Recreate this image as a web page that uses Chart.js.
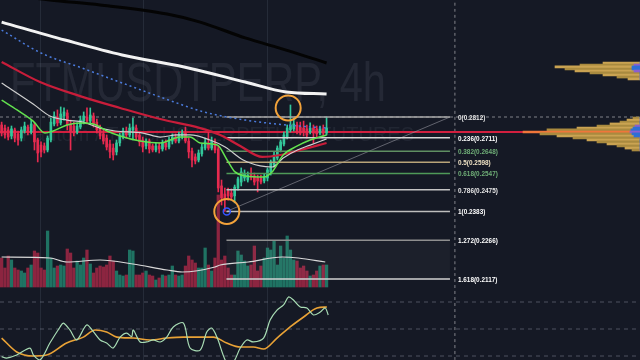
<!DOCTYPE html>
<html><head><meta charset="utf-8">
<script src="https://cdn.jsdelivr.net/npm/chart.js@4.4.0/dist/chart.umd.min.js"></script>
<style>html,body{margin:0;padding:0;background:#151925;overflow:hidden}#wrap{width:640px;height:360px}</style>
</head><body><div id="wrap"><canvas id="c" width="640" height="360"></canvas></div>
<script>
// ---- candle data (FTMUSDTPERP, 4h) ----
const opens = [.2773,.2758,.2749,.2720,.2749,.2730,.2710,.2744,.2763,.2739,
.2773,.2701,.2677,.2673,.2654,.2701,.2778,.2812,.2783,.2817,
.2832,.2778,.2768,.2739,.2763,.2792,.2812,.2792,.2817,.2787,
.2758,.2730,.2710,.2682,.2663,.2645,.2687,.2715,.2744,.2725,
.2749,.2758,.2725,.2701,.2673,.2696,.2673,.2654,.2673,.2659,
.2687,.2668,.2696,.2715,.2696,.2720,.2734,.2696,.2649,.2622,
.2608,.2636,.2663,.2687,.2663,.2692,.2659,.2492,.2457,.2470,
.2461,.2449,.2483,.2509,.2527,.2518,.2545,.2536,.2527,.2527,
.2514,.2527,.2554,.2585,.2617,.2654,.2682,.2715,.2749,.2754,
.2773,.2763,.2758,.2754,.2739,.2758,.2754,.2734,.2754,.2734];
const highs = [.2787,.2773,.2763,.2768,.2758,.2744,.2763,.2787,.2773,.2797,
.2783,.2710,.2692,.2687,.2720,.2807,.2837,.2847,.2862,.2857,
.2847,.2797,.2787,.2783,.2817,.2837,.2857,.2857,.2832,.2802,
.2773,.2749,.2725,.2701,.2682,.2701,.2734,.2758,.2763,.2778,
.2807,.2773,.2739,.2715,.2706,.2706,.2682,.2687,.2687,.2701,
.2701,.2715,.2730,.2730,.2739,.2749,.2763,.2710,.2663,.2636,
.2654,.2682,.2710,.2739,.2715,.2706,.2673,.2518,.2483,.2483,
.2479,.2496,.2531,.2572,.2563,.2554,.2572,.2549,.2540,.2540,
.2545,.2572,.2608,.2645,.2673,.2701,.2739,.2773,.2872,.2807,
.2787,.2787,.2792,.2773,.2783,.2773,.2768,.2768,.2773,.2812];
const lows = [.2720,.2710,.2701,.2706,.2692,.2677,.2696,.2734,.2725,.2730,
.2654,.2599,.2622,.2640,.2645,.2692,.2768,.2768,.2773,.2797,
.2749,.2654,.2720,.2730,.2754,.2778,.2778,.2783,.2763,.2734,
.2706,.2682,.2654,.2617,.2608,.2631,.2673,.2706,.2710,.2715,
.2701,.2701,.2673,.2645,.2659,.2640,.2645,.2645,.2640,.2649,
.2654,.2659,.2682,.2687,.2687,.2706,.2687,.2617,.2576,.2590,
.2599,.2626,.2654,.2654,.2654,.2640,.2466,.2410,.2383,.2431,
.2436,.2419,.2474,.2492,.2514,.2509,.2518,.2496,.2466,.2501,
.2505,.2514,.2540,.2576,.2608,.2645,.2673,.2706,.2739,.2744,
.2730,.2725,.2720,.2710,.2730,.2687,.2715,.2725,.2720,.2725];
const closes = [.2734,.2725,.2715,.2754,.2710,.2701,.2749,.2768,.2739,.2778,
.2692,.2640,.2645,.2654,.2710,.2787,.2817,.2783,.2827,.2837,
.2773,.2739,.2734,.2768,.2797,.2817,.2792,.2822,.2778,.2749,
.2720,.2696,.2668,.2645,.2631,.2687,.2720,.2744,.2725,.2758,
.2763,.2715,.2692,.2668,.2696,.2659,.2654,.2673,.2659,.2687,
.2668,.2701,.2715,.2696,.2725,.2734,.2696,.2645,.2608,.2603,
.2640,.2668,.2692,.2663,.2696,.2654,.2483,.2440,.2431,.2449,
.2444,.2487,.2523,.2554,.2545,.2540,.2531,.2509,.2514,.2509,
.2531,.2563,.2599,.2631,.2663,.2692,.2725,.2758,.2773,.2778,
.2739,.2734,.2739,.2725,.2758,.2734,.2730,.2754,.2734,.2758];
const volumes = [29,19,31,27,19,17,16,14,19,22,
36,34,19,17,56,29,19,21,22,21,
38,34,19,26,22,29,37,23,14,19,
21,20,22,31,26,16,12,11,12,37,
36,12,12,14,16,12,11,7,9,12,
11,12,21,12,11,12,21,31,27,24,
19,19,39,22,16,29,92,27,31,19,
12,12,36,32,26,21,22,41,16,21,
29,39,37,46,22,41,29,51,37,27,
26,19,21,16,11,12,16,21,22,22];

// ---- moving averages (candle index, price) ----
const blackX = [0,14.7,30,50.4,60.5,74.2,86.7,99];
const blackY = [.3489,.3452,.3422,.3368,.3321,.3230,.3162,.3091];
const whiteX = [0,19.3,36.7,55.6,74.2,86.7,99];
const whiteY = [.3321,.3218,.3135,.3070,.2990,.2938,.2928];
const blueX = [0,12,24.5,36.7,49.2,61.7,74.2,86.7,99];
const blueY = [.3275,.3146,.3064,.2985,.2907,.2837,.2797,.2773,.2758];
const redX = [0,11.7,23.9,36.1,48.3,60.5,66.6,72.7,79.4,84.9,91,99];
const redY = [.3097,.2990,.2917,.2857,.2802,.2758,.2725,.2673,.2622,.2631,.2654,.2687];
const greyX = [0,9.6,14.7,19.9,24.8,30,34.6,43.1,48.3,53.5,57.4,63.5,68.1,73.6,78.8,82.4,85.8,90.1,94,99];
const greyY = [.2985,.2877,.2817,.2797,.2787,.2758,.2744,.2734,.2715,.2725,.2725,.2701,.2668,.2608,.2581,.2576,.2617,.2654,.2677,.2706];
const greenX = [0,4.7,9.6,13.2,15.7,19.9,23.9,27.9,32.1,36.1,42.2,48.3,54.4,57.4,60.5,65.7,68.7,71.1,74.2,79.7,82.4,85.8,90.1,94,99];
const greenY = [.2897,.2847,.2792,.2734,.2744,.2773,.2783,.2778,.2744,.2720,.2696,.2687,.2715,.2715,.2687,.2677,.2608,.2554,.2536,.2531,.2554,.2631,.2673,.2701,.2725];
const volMaX = [0,14.7,19.9,30,40,50.4,55,65,66.6,75.1,85.5,90.4,98.6];
const volMaY = [30,29,25,27,23,17,15,20,22,25,30,29,25];

// ---- oscillator ----
const rsiX = [0,1.5,4.6,8.6,9.7,11.7,14.7,17.8,18.8,20.8,22.9,25.9,28,30,32,34,36.1,38.1,39.6,40.1,42.2,44.2,46.2,48.3,50.3,52.3,55.4,57.4,60.5,62.5,64,65.6,68.6,70.6,72.7,74.7,76.7,79.8,81.8,83.9,85.9,87.4,88.9,91,93,95,97.1,98.6,99.5];
const rsiY = [29.5,28.5,30.7,35.9,30.7,27,39.6,51.5,54.4,49.3,41.9,53,47.8,41.9,39.6,35.9,44,47,44.3,49.3,40.4,40.4,41.9,40.4,44,51.5,54.4,35.9,34.4,47.8,50.7,44,24.8,25.5,35.9,41.9,40.4,43.3,56.7,64,67.8,73.7,71.5,66.3,65.6,60.4,62.6,65.6,60.4];
const rsiMaX = [0,4.6,9.7,13.7,19.8,24.9,28.5,32,35.1,40.1,45.2,50.3,55.4,60.5,64.5,68.6,72.7,76.7,79.8,83.9,87.9,92,96.1,99.1];
const rsiMaY = [43.3,33,30,30.7,39.6,44,49.3,47.8,44,43.3,41.9,43.3,44,44,44,39.6,36.7,36.7,35.2,43.3,51.5,58.9,65.6,66.3];
const rsiLevels = [70,50,30];

// ---- fibonacci retracement ----
const fibRatios = ['0','0.236','0.382','0.5','0.618','0.786','1','1.272','1.618'];
const fibPrices = [0.2812,0.2711,0.2648,0.2598,0.2547,0.2475,0.2383,0.2266,0.2117];
const fibFrom = 68.5, fibTo = 136.6;
const lastPrice = 0.2739;
const markHigh = {x:87.3, y:0.2857};
const markLow = {x:68.6, y:0.2383};
const crossX = 138.1;

// ---- visible range volume profile ----
const vpPrices = [.3091,.3080,.3070,.3059,.3048,.3038,.3027,.3016,.3006,
.2807,.2797,.2787,.2778,.2768,.2758,.2749,.2739,.2730,.2720,.2711,.2701,.2692,.2682,.2673,.2663,.2654];
const vpVols = [37,60,85,75,65,50,37,23,12,
7,13,20,30,43,63,93,117,100,83,67,53,43,33,23,15,8];
const vpUpVols = [0,6,8,8,6,0,0,0,0,
0,0,0,0,5,7,9,10,8,6,0,0,0,0,0,0,0];

const wmTitle = 'FTMUSDTPERP, 4h';
const wmSub = 'Fantom / TetherUS PERPETUAL FUTURES';

// ---- build ----
const UP='#33c79a', DOWN='#e62a4f', VUP='#1f7363', VDOWN='#8c2540';
const up = i => closes[i] >= opens[i];
const pts = (xs, ys) => xs.map((x,k)=>({x, y: ys[k]}));
const datasets = [];
const add = d => { datasets.push(d); return datasets.length-1; };
const line = (data, color, width, order, extra={}) => Object.assign({type:'line', data, borderColor:color, borderWidth:width, pointRadius:0, fill:false, order, xAxisID:'x', yAxisID:'y', cubicInterpolationMode:'monotone'}, extra);

// circles & markers (top)
add(line([markHigh, markLow], 'rgba(0,0,0,0)', 0, 1, {showLine:false, pointRadius:12.5, pointBorderWidth:2, pointBorderColor:'#f2a23a', pointBackgroundColor:'rgba(0,0,0,0)'}));
add(line([markLow], 'rgba(0,0,0,0)', 0, 0, {showLine:false, pointRadius:3.5, pointBorderWidth:1.5, pointBorderColor:'#3556ff', pointBackgroundColor:'rgba(0,0,0,0)'}));

// moving averages
add(line(pts(greenX, greenY), '#63e24f', 1.5, 4));
add(line(pts(greyX, greyY), '#cfcfcf', 1.2, 5));
add(line(pts(redX, redY), '#c81d3a', 2.2, 6));
add(line(pts(blueX, blueY), '#4b7bdc', 1.5, 7, {borderDash:[2,3]}));
add(line(pts(whiteX, whiteY), '#f2f2f2', 3, 8));
add(line(pts(blackX, blackY), '#040404', 3, 9));

// fib levels
const fibLine = ['#a9a9a9','#d6d6d6','#5f8f62','#b9a478','#4f9a58','#c4c4c4','#bdbdbd','#8f8f8f','#d2d2d2'];
let idx1272 = -1;
fibRatios.forEach((r,k)=>{
  const d = line([{x:fibFrom,y:fibPrices[k]},{x:fibTo,y:fibPrices[k]}], fibLine[k], 1.5, 12, {cubicInterpolationMode:'default'});
  if (r === '1.618' && idx1272 >= 0) { d.fill = {target: idx1272}; d.backgroundColor = 'rgba(255,255,255,0.03)'; }
  const n = add(d);
  if (r === '1.272') idx1272 = n;
});
add(line([{x:fibFrom,y:fibPrices[6]},{x:fibTo,y:fibPrices[0]}], 'rgba(160,160,170,0.55)', 1, 13));

// candles
add({type:'bar', data: opens.map((o,i)=>({x:i, y:[o, closes[i]]})), backgroundColor: c=>up(c.dataIndex)?UP:DOWN, barThickness:2, grouped:false, order:19, xAxisID:'x', yAxisID:'y'});
add({type:'bar', data: lows.map((l,i)=>({x:i, y:[l, highs[i]]})), backgroundColor: c=>up(c.dataIndex)?UP:DOWN, barThickness:1, grouped:false, order:20, xAxisID:'x', yAxisID:'y'});

// volume profile
const maxVp = Math.max(...vpVols);
add({type:'bar', indexAxis:'y', data: vpPrices.map((p,k)=>({x:vpUpVols[k], y:p})), backgroundColor: c=> (c.dataIndex%3===1)?'#8a5fd0':'#2f6fd6', barThickness:2, grouped:false, order:22, xAxisID:'xp', yAxisID:'y'});
add({type:'bar', indexAxis:'y', data: vpPrices.map((p,k)=>({x:vpVols[k], y:p})), backgroundColor: c=> vpVols[c.dataIndex]===maxVp ? '#f0763a' : (c.dataIndex%2 ? '#a98a3f' : '#caa352'), barThickness:2, grouped:false, order:23, xAxisID:'xp', yAxisID:'y'});

// last price line & crosshair
add(line([{x:-0.5,y:lastPrice},{x:194.5,y:lastPrice}], '#d21f3f', 2, 25));
add(line([{x:-0.5,y:fibPrices[0]},{x:194.5,y:fibPrices[0]}], 'rgba(200,200,205,0.6)', 1, 26, {borderDash:[3,3]}));
add(line([{x:crossX,y:0.1837},{x:crossX,y:0.3452}], 'rgba(200,200,205,0.6)', 1, 26, {borderDash:[3,3]}));

// volume
add(line(pts(volMaX, volMaY), '#d8d8d8', 1.2, 29, {yAxisID:'yv'}));
add({type:'bar', data: volumes.map((v,i)=>({x:i, y:v})), backgroundColor: c=>up(c.dataIndex)?VUP:VDOWN, barThickness:2.6, grouped:false, order:30, xAxisID:'x', yAxisID:'yv'});

// oscillator
add(line(pts(rsiX, rsiY), '#a8dcb4', 1.2, 31, {yAxisID:'yr', cubicInterpolationMode:'default', tension:0.3}));
add(line(pts(rsiMaX, rsiMaY), '#e9a236', 1.6, 32, {yAxisID:'yr'}));
rsiLevels.forEach(v=> add(line([{x:-0.5,y:v},{x:194.5,y:v}], 'rgba(125,130,145,0.55)', 1, 33, {yAxisID:'yr', borderDash:[4,4]})));

const bgPlugin = {id:'bg', beforeDraw(ch){const c=ch.ctx;c.save();c.fillStyle='#151925';c.fillRect(0,0,ch.width,ch.height);c.restore();}};
const wmPlugin = {id:'wm', beforeDatasetsDraw(ch){
  const c = ch.ctx, xs = ch.scales.x;
  c.save();
  c.strokeStyle='rgba(70,76,92,0.35)'; c.lineWidth=1;
  [11.7,43.1,80.9].forEach(v=>{const x=Math.round(xs.getPixelForValue(v))+0.5;c.beginPath();c.moveTo(x,0);c.lineTo(x,360);c.stroke();});
  c.fillStyle='rgba(140,146,162,0.13)';
  c.font='55px "Liberation Sans", Arial, sans-serif';
  const w = c.measureText(wmTitle).width;
  c.translate(10,101); c.scale(376/w,1); c.fillText(wmTitle,0,0);
  c.restore();
  c.save();
  c.fillStyle='rgba(140,146,162,0.11)'; c.font='20px "Liberation Sans", Arial, sans-serif';
  c.textAlign='right'; c.fillText(wmSub,414,141);
  c.restore();
}};
const fibLabel = ['#e6e6e6','#ffffff','#6fae77','#efe2c4','#6fae77','#e6e6e6','#ffffff','#ffffff','#ffffff'];
const labelPlugin = {id:'fibl', afterDatasetsDraw(ch){
  const c = ch.ctx, x0 = ch.scales.x.getPixelForValue(fibTo)+8;
  c.save(); c.font='bold 8px "Liberation Sans", Arial, sans-serif'; c.textBaseline='middle';
  fibRatios.forEach((r,k)=>{
    const y = ch.scales.y.getPixelForValue(fibPrices[k]);
    c.save(); c.translate(x0,y); c.scale(0.8,1); c.fillStyle=fibLabel[k];
    c.fillText(r+'('+fibPrices[k].toFixed(4)+')',0,0.5); c.restore();
  });
  c.restore();
}};

new Chart(document.getElementById('c'), {
  type:'bar',
  data:{datasets},
  options:{
    responsive:false, animation:false, devicePixelRatio:1, events:[],
    layout:{padding:0, autoPadding:false},
    plugins:{legend:{display:false}, tooltip:{enabled:false}},
    scales:{
      x:{type:'linear', min:-0.5, max:194.5, display:false, offset:false, bounds:'data'},
      xp:{type:'linear', min:0, max:640, reverse:true, display:false, offset:false, bounds:'data'},
      y:{type:'logarithmic', min:0.18368, max:0.3452, display:false, offset:false, bounds:'data'},
      yv:{type:'linear', min:-73, max:287, display:false, offset:false, beginAtZero:false, bounds:'data'},
      yr:{type:'linear', min:27.04, max:293.7, display:false, offset:false, beginAtZero:false, bounds:'data'}
    }
  },
  plugins:[bgPlugin, wmPlugin, labelPlugin]
});
</script></body></html>
